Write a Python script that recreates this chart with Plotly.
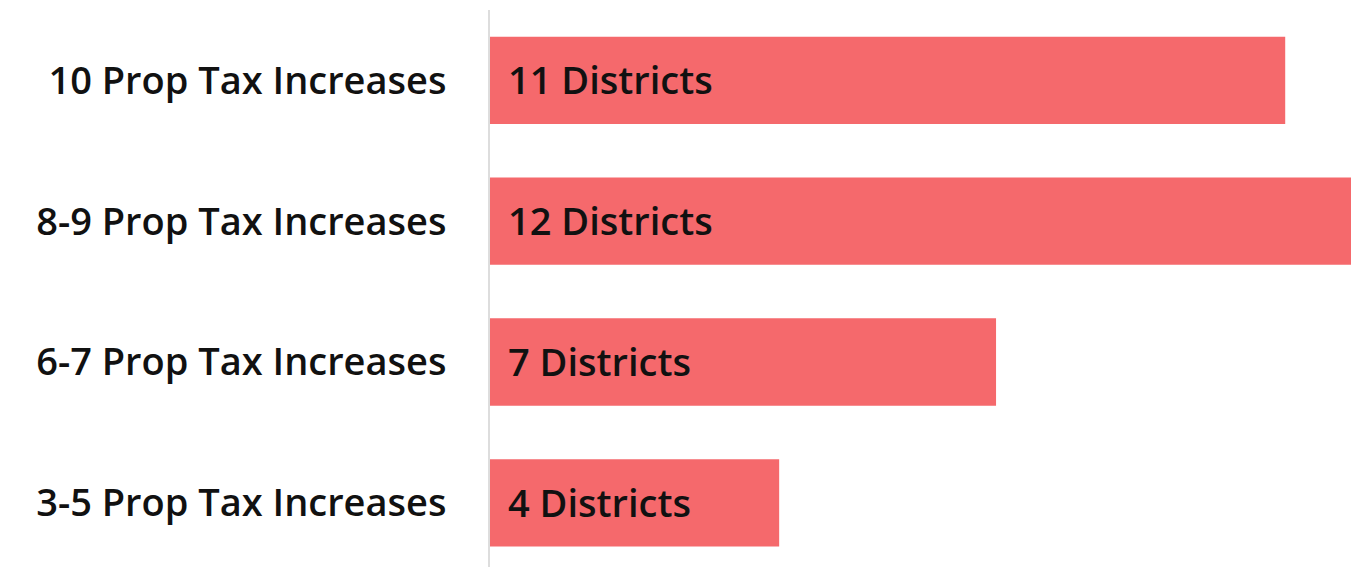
import plotly.graph_objects as go

categories = ["10 Prop Tax Increases", "8-9 Prop Tax Increases", "6-7 Prop Tax Increases", "3-5 Prop Tax Increases"]
districts = [11, 12, 7, 4]
bar_labels = ["11 Districts", "12 Districts", "7 Districts", "4 Districts"]

FONT = "Open Sans"
BAR_COLOR = "#F5696C"
FSIZE = 38

fig = go.Figure(go.Bar(
    x=districts,
    y=categories,
    orientation="h",
    marker=dict(color=BAR_COLOR, line=dict(width=0)),
    width=0.62,
    hoverinfo="skip",
))

for cat, lab in zip(categories, bar_labels):
    fig.add_annotation(x=0, y=cat, text=lab, xref="x", yref="y",
                       xanchor="left", yanchor="middle", xshift=16, yshift=1, showarrow=False,
                       font=dict(family=FONT, size=FSIZE, color="#111111", weight=600))

fig.update_layout(
    width=1351, height=567,
    margin=dict(l=490, r=0, t=10, b=0),
    paper_bgcolor="white", plot_bgcolor="white",
    showlegend=False,
    xaxis=dict(range=[0, 11.91], showgrid=False, zeroline=False, showticklabels=False,
               showline=False, fixedrange=True),
    yaxis=dict(range=[3.456, -0.5], showgrid=False, zeroline=False, showline=True,
               linecolor="#DDDDDD", linewidth=2, ticks="", ticklabelstandoff=34,
               fixedrange=True,
               tickfont=dict(family=FONT, size=FSIZE, color="#111111", weight=600)),
)

fig.write_html("out.html", config={"displayModeBar": False},
               post_script="document.body.style.margin='0';document.body.style.overflow='hidden';")
